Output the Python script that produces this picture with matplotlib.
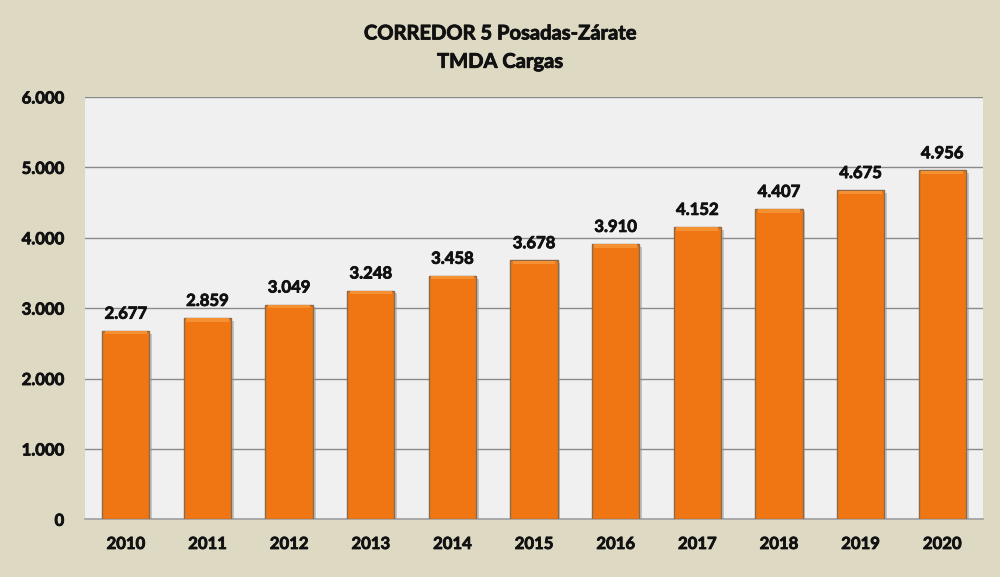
import matplotlib
matplotlib.use("Agg")
import matplotlib.pyplot as plt
import matplotlib.patheffects as pe

years = ["2010", "2011", "2012", "2013", "2014", "2015", "2016", "2017", "2018", "2019", "2020"]
values = [2677, 2859, 3049, 3248, 3458, 3678, 3910, 4152, 4407, 4675, 4956]
yticks = [0, 1000, 2000, 3000, 4000, 5000, 6000]

def fmt(v):
    return f"{v:,}".replace(",", ".")

plt.rcParams['font.family'] = ['Lato', 'DejaVu Sans']
thick = [pe.withStroke(linewidth=0.6, foreground='#111111')]

fig = plt.figure(figsize=(10, 5.77), dpi=100)
fig.patch.set_facecolor('#DDD9C3')
ax = fig.add_axes([0.085, 0.100, 0.898, 0.732])
ax.set_facecolor('#F0F0F0')

x = list(range(len(years)))
ax.bar(x, values, width=0.58, color='#F07613', edgecolor='#8A6A4A', linewidth=1.0, zorder=3,
       path_effects=[pe.SimplePatchShadow(offset=(2, -2), shadow_rgbFace='#999999', alpha=0.5), pe.Normal()])
# subtle bevel highlight at top of each bar
for xi, v in zip(x, values):
    ax.bar(xi, 45, bottom=v - 50, width=0.52, color='#F49233', linewidth=0, zorder=4)

for xi, v in zip(x, values):
    ax.text(xi, v + 130, fmt(v), ha='center', va='bottom', fontsize=12, fontweight='bold',
            color='#111111', zorder=5, path_effects=thick)

ax.set_ylim(0, 6000)
ax.set_xlim(-0.5, len(years) - 0.5)
ax.set_yticks(yticks)
ax.set_yticklabels([fmt(t) for t in yticks], fontsize=12, fontweight='bold', color='#111111')
ax.set_xticks(x)
ax.set_xticklabels(years, fontsize=12, fontweight='bold', color='#111111')
ax.tick_params(axis='both', length=0)
ax.tick_params(axis='y', pad=15)
ax.tick_params(axis='x', pad=12)
for lbl in ax.get_yticklabels() + ax.get_xticklabels():
    lbl.set_path_effects(thick)
ax.yaxis.grid(True, color='#8A8A8A', linewidth=1.0, zorder=0)
ax.set_axisbelow(True)
for s in ['top', 'right', 'left']:
    ax.spines[s].set_visible(False)
ax.spines['bottom'].set_color('#A0A0A0')
ax.spines['bottom'].set_linewidth(1.2)

fig.text(0.5, 0.942, "CORREDOR 5 Posadas-Zárate", ha='center', va='center', fontsize=14.5,
         fontweight='bold', color='#111111', path_effects=thick)
fig.text(0.5, 0.893, "TMDA Cargas", ha='center', va='center', fontsize=14.5,
         fontweight='bold', color='#111111', path_effects=thick)

fig.savefig("out.png", dpi=100, facecolor=fig.get_facecolor())
